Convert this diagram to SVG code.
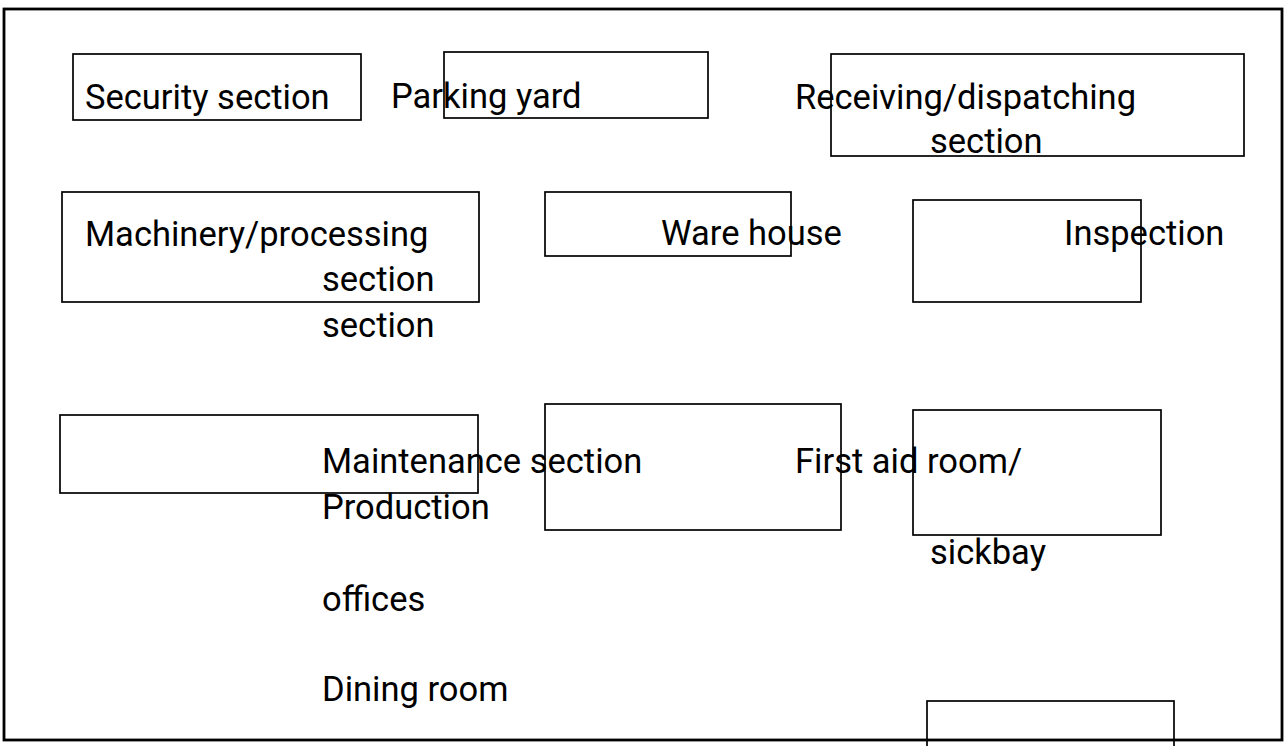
<svg xmlns="http://www.w3.org/2000/svg" width="1286" height="746" viewBox="0 0 1286 746">
  <style>
    .frame { fill: none; stroke: #000; stroke-width: 2.8; }
    .box { fill: none; stroke: #000; stroke-width: 1.7; }
    .lbl { font-family: Roboto, "Liberation Sans", sans-serif; font-size: 34.5px; fill: #000; }
  </style>
  <rect width="1286" height="746" fill="#fff"/>

  <!-- site boundary -->
  <rect id="site" class="frame" x="4" y="9" width="1278" height="731"/>

  <g id="security">
    <rect class="box" x="73" y="54" width="288" height="66"/>
    <text class="lbl" x="85" y="109">Security section</text>
  </g>

  <g id="parking">
    <rect class="box" x="444" y="52" width="264" height="66"/>
    <text class="lbl" x="391" y="108">Parking yard</text>
  </g>

  <g id="receiving">
    <rect class="box" x="831" y="54" width="413" height="102"/>
    <text class="lbl" x="795" y="109">Receiving/dispatching</text>
    <text class="lbl" x="930" y="153">section</text>
  </g>

  <g id="machinery">
    <rect class="box" x="62" y="192" width="417" height="110"/>
    <text class="lbl" x="85" y="246">Machinery/processing</text>
    <text class="lbl" x="322" y="291">section</text>
    <text class="lbl" x="322" y="337">section</text>
  </g>

  <g id="warehouse">
    <rect class="box" x="545" y="192" width="246" height="64"/>
    <text class="lbl" x="661" y="245">Ware house</text>
  </g>

  <g id="inspection">
    <rect class="box" x="913" y="200" width="228" height="102"/>
    <text class="lbl" x="1064" y="245">Inspection</text>
  </g>

  <g id="maintenance">
    <rect class="box" x="60" y="415" width="418" height="78"/>
    <text class="lbl" x="322" y="473">Maintenance section</text>
  </g>

  <g id="production">
    <rect class="box" x="545" y="404" width="296" height="126"/>
    <text class="lbl" x="322" y="519">Production</text>
    <text class="lbl" x="322" y="611">offices</text>
  </g>

  <g id="first-aid">
    <rect class="box" x="913" y="410" width="248" height="125"/>
    <text class="lbl" x="795" y="473">First aid room/</text>
    <text class="lbl" x="930" y="564">sickbay</text>
  </g>

  <g id="dining">
    <rect class="box" x="927" y="701" width="247" height="60"/>
    <text class="lbl" x="322" y="701">Dining room</text>
  </g>
</svg>
